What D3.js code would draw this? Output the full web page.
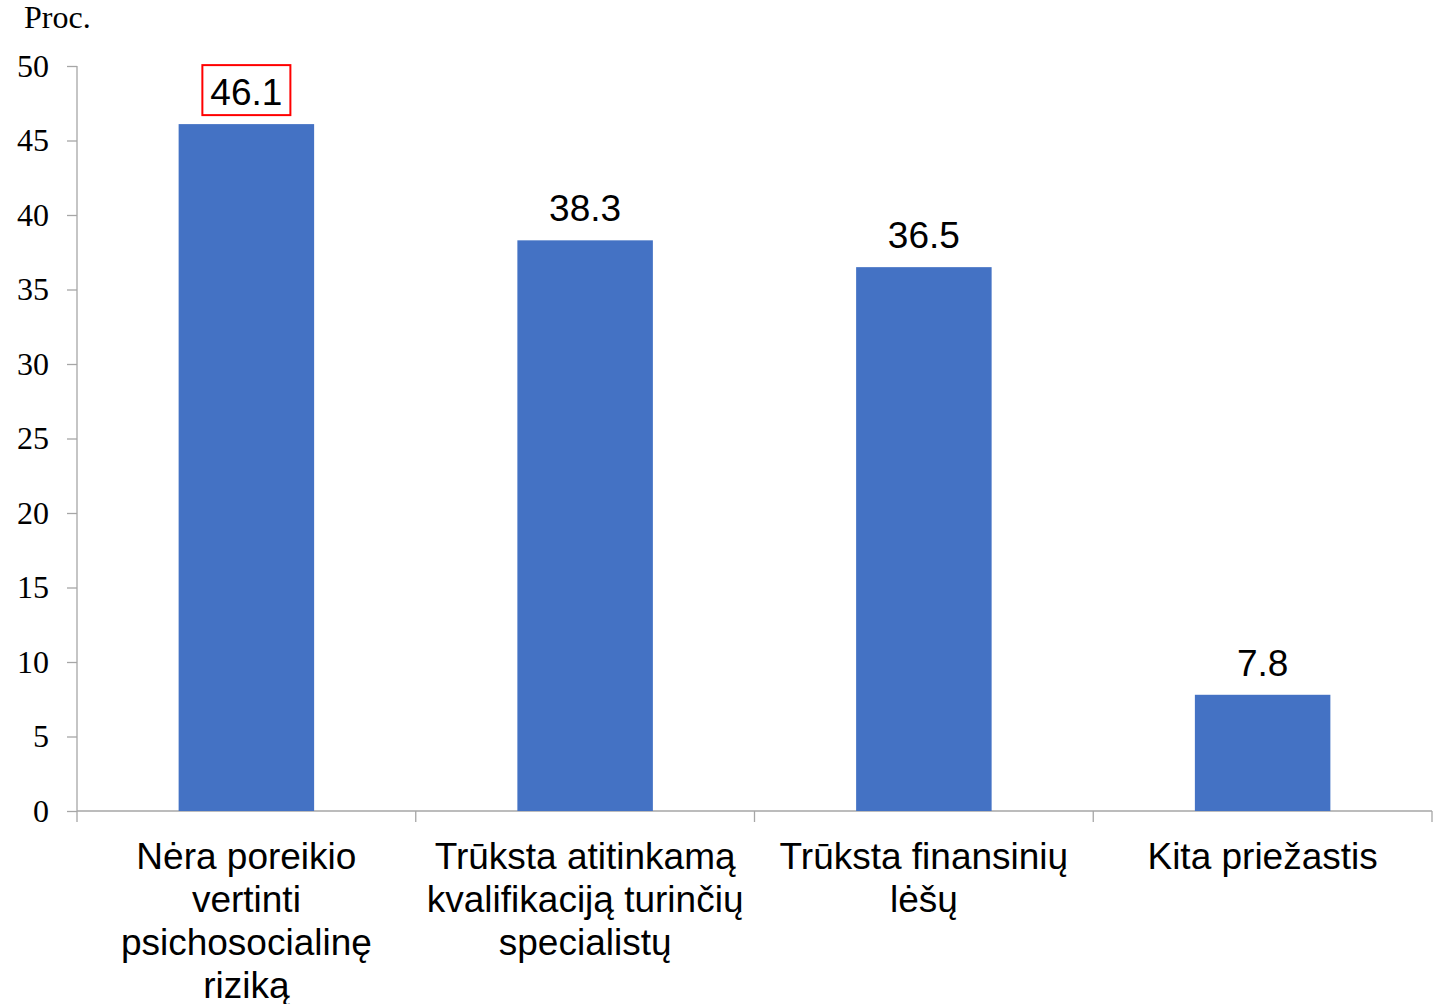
<!DOCTYPE html>
<html>
<head>
<meta charset="utf-8">
<script src="https://cdn.jsdelivr.net/npm/d3@7"></script>
<style>
  body { margin: 0; background: #fff; }
  svg { display: block; }
</style>
</head>
<body>
<svg id="chart" width="1445" height="1004"></svg>
<script>
const categories = [
  ['Nėra poreikio', 'vertinti', 'psichosocialinę', 'riziką'],
  ['Trūksta atitinkamą', 'kvalifikaciją turinčių', 'specialistų'],
  ['Trūksta finansinių', 'lėšų'],
  ['Kita priežastis']
];
const values = [46.1, 38.3, 36.5, 7.8];
const yTicks = [0, 5, 10, 15, 20, 25, 30, 35, 40, 45, 50];
const unitLabel = 'Proc.';
const highlighted = 0;

const margin = { top: 66, right: 13, bottom: 193, left: 77 },
  width = 1445 - margin.left - margin.right,
  height = 1004 - margin.top - margin.bottom;

const svg = d3.select('#chart');
const g = svg.append('g').attr('transform', `translate(${margin.left},${margin.top})`);

// bars sit centred in equal slots, ~40% of the slot wide
const x = d3.scaleBand()
  .domain(d3.range(values.length))
  .range([0, width])
  .paddingInner(0.6)
  .paddingOuter(0.3);

const y = d3.scaleLinear().domain([0, 50]).range([height, 0]);

// y axis
const yAxis = g.append('g')
  .call(d3.axisLeft(y).tickValues(yTicks).tickSize(10).tickPadding(18));
yAxis.selectAll('line, path').attr('stroke', '#a6a6a6').attr('stroke-width', 1.3);
yAxis.select('.domain').attr('d', `M0,${height}V0`);
yAxis.selectAll('text')
  .style('font-family', '"Liberation Serif", "Times New Roman", serif')
  .style('font-size', '32px')
  .attr('fill', '#000');

// x axis with ticks between categories
const step = width / values.length;
g.append('line')
  .attr('x1', 0).attr('x2', width)
  .attr('y1', height).attr('y2', height)
  .attr('stroke', '#a6a6a6').attr('stroke-width', 1.3);
g.selectAll('.xtick')
  .data(d3.range(values.length + 1))
  .join('line')
  .attr('class', 'xtick')
  .attr('x1', i => i * step).attr('x2', i => i * step)
  .attr('y1', height).attr('y2', height + 11)
  .attr('stroke', '#a6a6a6').attr('stroke-width', 1.3);

// bars
g.selectAll('.bar')
  .data(values)
  .join('rect')
  .attr('class', 'bar')
  .attr('x', (d, i) => x(i))
  .attr('width', x.bandwidth())
  .attr('y', d => y(d))
  .attr('height', d => height - y(d))
  .attr('fill', '#4472c4');

// value labels
const labels = g.selectAll('.val')
  .data(values)
  .join('text')
  .attr('class', 'val')
  .attr('x', (d, i) => x(i) + x.bandwidth() / 2)
  .attr('y', d => y(d) - 19)
  .attr('text-anchor', 'middle')
  .style('font-family', '"Liberation Sans", Arial, sans-serif')
  .style('font-size', '37px')
  .attr('fill', '#000')
  .text(d => d.toFixed(1));

// red box around highlighted value
const hb = labels.filter((d, i) => i === highlighted).node().getBBox();
g.append('rect')
  .attr('x', hb.x - 8).attr('y', hb.y - 7)
  .attr('width', hb.width + 16).attr('height', hb.height + 9)
  .attr('fill', 'none')
  .attr('stroke', '#ff0000')
  .attr('stroke-width', 2);

// category labels
const cat = g.selectAll('.cat')
  .data(categories)
  .join('text')
  .attr('class', 'cat')
  .attr('text-anchor', 'middle')
  .attr('transform', (d, i) => `translate(${x(i) + x.bandwidth() / 2},${height + 58})`)
  .style('font-family', '"Liberation Sans", Arial, sans-serif')
  .style('font-size', '37px')
  .attr('fill', '#000');
cat.selectAll('tspan')
  .data(d => d)
  .join('tspan')
  .attr('x', 0)
  .attr('y', (d, i) => i * 43)
  .text(d => d);

// unit label
svg.append('text')
  .attr('x', 24).attr('y', 28)
  .style('font-family', '"Liberation Serif", "Times New Roman", serif')
  .style('font-size', '32px')
  .attr('fill', '#000')
  .text(unitLabel);
</script>
</body>
</html>
